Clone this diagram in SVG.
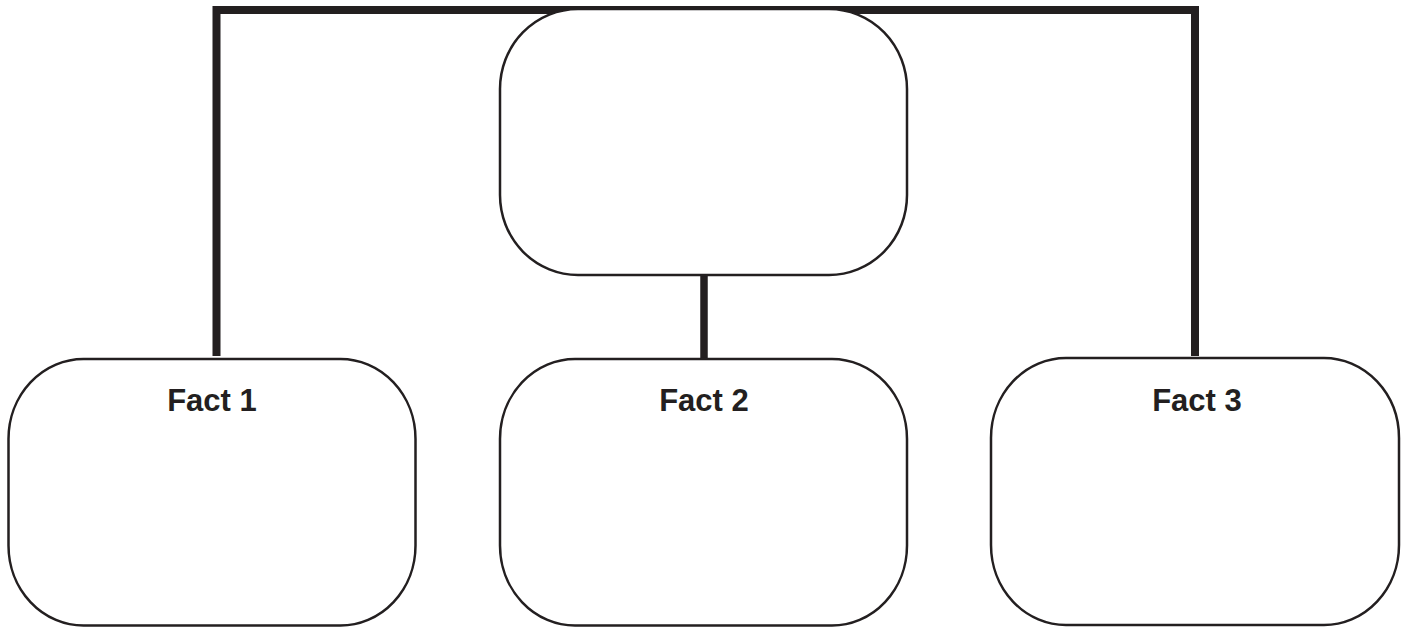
<svg xmlns="http://www.w3.org/2000/svg" width="1406" height="627" viewBox="0 0 1406 627">
  <style>
    .box { fill: #ffffff; stroke: #231f20; stroke-width: 2.5; }
    .wire { fill: none; stroke: #231f20; stroke-width: 8; stroke-linecap: butt; stroke-linejoin: miter; }
    .label { font-family: "Liberation Sans", Arial, sans-serif; font-weight: bold; font-size: 31px; fill: #231f20; text-anchor: middle; }
  </style>
  <rect width="1406" height="627" fill="#ffffff"/>

  <g id="connectors">
    <path class="wire" d="M216.5 356 V10 H1195 V356"/>
    <path class="wire" d="M704 275 V359" style="stroke-width:7.5"/>
  </g>

  <g id="main">
    <rect class="box" x="500" y="9" width="407" height="266" rx="78" ry="80"/>
  </g>

  <g id="fact1">
    <rect class="box" x="8.5" y="359" width="407" height="266.5" rx="75" ry="80"/>
    <text class="label" x="212" y="411">Fact 1</text>
  </g>

  <g id="fact2">
    <rect class="box" x="500" y="359" width="407" height="266.5" rx="75" ry="80"/>
    <text class="label" x="704" y="411">Fact 2</text>
  </g>

  <g id="fact3">
    <rect class="box" x="991" y="358" width="408" height="267" rx="75" ry="80"/>
    <text class="label" x="1197" y="411">Fact 3</text>
  </g>
</svg>
